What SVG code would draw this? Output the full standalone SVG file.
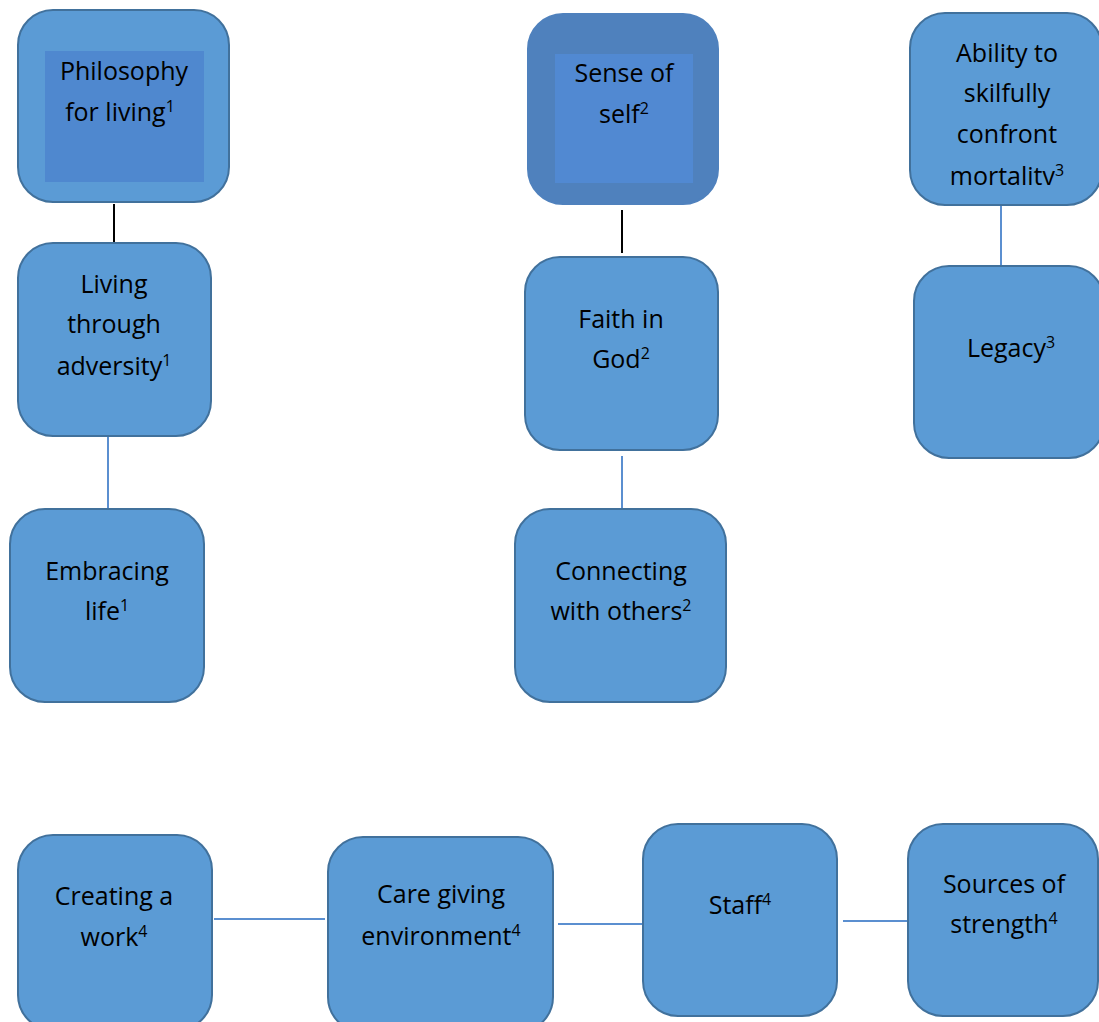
<svg xmlns="http://www.w3.org/2000/svg" width="1099" height="1022" viewBox="0 0 1099 1022">
<style>
.box{fill:#5b9bd5;stroke:#41719c;stroke-width:2}
.dark{fill:#4f81bd;stroke:#4f81bd;stroke-width:2}
.inner{fill:#4f88cf}
.inner2{fill:#5189d2}
.t{font-family:"Open Sans","Liberation Sans",sans-serif;font-size:25px;fill:#000;text-anchor:middle}
.sup{font-size:16px}
.cb{stroke:#000;stroke-width:2}
.cl{stroke:#5b8fd0;stroke-width:2}
</style>
<g id="connectors">
<line class="cb" x1="114" y1="204" x2="114" y2="242"/>
<line class="cl" x1="108" y1="437" x2="108" y2="508"/>
<line class="cb" x1="622" y1="210" x2="622" y2="253"/>
<line class="cl" x1="622" y1="456" x2="622" y2="508"/>
<line class="cl" x1="1001" y1="206" x2="1001" y2="266"/>
<line class="cl" x1="214" y1="919" x2="325" y2="919"/>
<line class="cl" x1="558" y1="924" x2="643" y2="924"/>
<line class="cl" x1="843" y1="921" x2="908" y2="921"/>
</g>
<g id="philosophy">
<rect class="box" x="18" y="10" width="211" height="192" rx="35"/>
<rect class="inner" x="45" y="51" width="159" height="131"/>
<text class="t" x="124" y="80">Philosophy</text>
<text class="t" x="120" y="121">for living<tspan class="sup" dy="-9">1</tspan></text>
</g>
<g id="living">
<rect class="box" x="18" y="243" width="193" height="193" rx="35"/>
<text class="t" x="114" y="293">Living</text>
<text class="t" x="114" y="333">through</text>
<text class="t" x="114" y="375">adversity<tspan class="sup" dy="-9">1</tspan></text>
</g>
<g id="embracing">
<rect class="box" x="10" y="509" width="194" height="193" rx="35"/>
<text class="t" x="107" y="580">Embracing</text>
<text class="t" x="107" y="620">life<tspan class="sup" dy="-9">1</tspan></text>
</g>
<g id="sense">
<rect class="dark" x="528" y="14" width="190" height="190" rx="35"/>
<rect class="inner2" x="555" y="54" width="138" height="129"/>
<text class="t" x="624" y="82">Sense of</text>
<text class="t" x="624" y="123">self<tspan class="sup" dy="-9">2</tspan></text>
</g>
<g id="faith">
<rect class="box" x="525" y="257" width="193" height="193" rx="35"/>
<text class="t" x="621" y="328">Faith in</text>
<text class="t" x="621" y="368">God<tspan class="sup" dy="-9">2</tspan></text>
</g>
<g id="connecting">
<rect class="box" x="515" y="509" width="211" height="193" rx="35"/>
<text class="t" x="621" y="580">Connecting</text>
<text class="t" x="621" y="620">with others<tspan class="sup" dy="-9">2</tspan></text>
</g>
<g id="ability">
<rect class="box" x="910" y="13" width="192" height="192" rx="35"/>
<text class="t" x="1007" y="62">Ability to</text>
<text class="t" x="1007" y="102">skilfully</text>
<text class="t" x="1007" y="143">confront</text>
<text class="t" x="1007" y="185">mortalitv<tspan class="sup" dy="-9">3</tspan></text>
</g>
<g id="legacy">
<rect class="box" x="914" y="266" width="190" height="192" rx="35"/>
<text class="t" x="1011" y="357">Legacy<tspan class="sup" dy="-9">3</tspan></text>
</g>
<g id="creating">
<rect class="box" x="18" y="835" width="194" height="195" rx="35"/>
<text class="t" x="114" y="905">Creating a</text>
<text class="t" x="114" y="946">work<tspan class="sup" dy="-9">4</tspan></text>
</g>
<g id="caregiving">
<rect class="box" x="328" y="837" width="225" height="195" rx="35"/>
<text class="t" x="441" y="903">Care giving</text>
<text class="t" x="441" y="945">environment<tspan class="sup" dy="-9">4</tspan></text>
</g>
<g id="staff">
<rect class="box" x="643" y="824" width="194" height="192" rx="35"/>
<text class="t" x="740" y="914">Staff<tspan class="sup" dy="-9">4</tspan></text>
</g>
<g id="sources">
<rect class="box" x="908" y="824" width="190" height="192" rx="35"/>
<text class="t" x="1004" y="893">Sources of</text>
<text class="t" x="1004" y="933">strength<tspan class="sup" dy="-9">4</tspan></text>
</g>
</svg>
